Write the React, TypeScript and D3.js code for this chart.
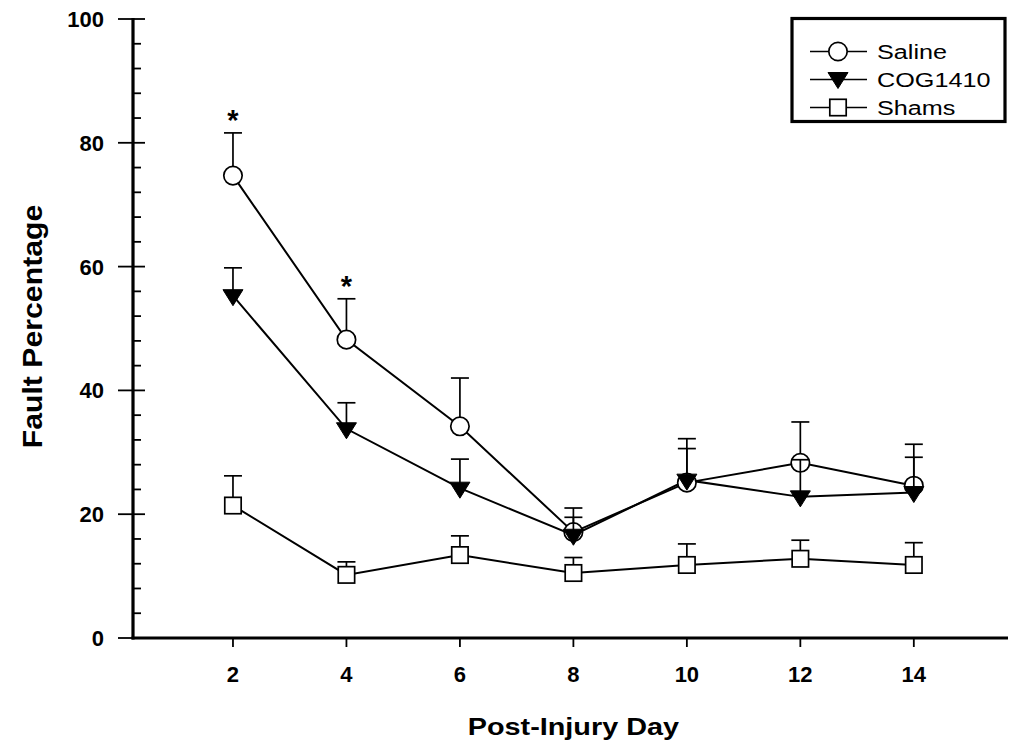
import React from 'react';
import * as d3 from 'd3';

// data (upper SEM bars only)
const days = [2, 4, 6, 8, 10, 12, 14];
const salineMean = [74.7, 48.2, 34.2, 17.1, 25.1, 28.3, 24.6];
const salineUpper = [81.6, 54.8, 42.0, 21.0, 32.2, 34.9, 31.3];
const cogMean = [55.3, 33.8, 24.2, 16.6, 25.5, 22.8, 23.5];
const cogUpper = [59.8, 38.0, 28.9, 19.5, 30.6, 28.8, 29.2];
const shamMean = [21.4, 10.2, 13.4, 10.5, 11.8, 12.8, 11.8];
const shamUpper = [26.2, 12.3, 16.5, 13.0, 15.2, 15.8, 15.4];
const starDays = [2, 4];
const starValues = [81.6, 54.8];
const yTicks = [0, 20, 40, 60, 80, 100];
const seriesNames = ['Saline', 'COG1410', 'Shams'];

const W = 1011;
const H = 746;
const font = 'Arial, "Liberation Sans", Helvetica, sans-serif';

type Kind = 'circle' | 'tri' | 'square';

function Marker({ kind, x, y }: { kind: Kind; x: number; y: number }) {
  if (kind === 'circle') {
    return <circle cx={x} cy={y} r={9.2} fill="white" stroke="black" strokeWidth={1.7} />;
  }
  if (kind === 'tri') {
    const s = 10;
    return (
      <path
        d={`M${x - s},${y - 6} L${x + s},${y - 6} L${x},${y + 10} Z`}
        fill="black"
        stroke="black"
        strokeWidth={1}
      />
    );
  }
  return <rect x={x - 8.2} y={y - 8.2} width={16.4} height={16.4} fill="white" stroke="black" strokeWidth={1.7} />;
}

export default function App() {
  const x = d3.scaleLinear().domain([0.238, 15.66]).range([133, 1008]);
  const y = d3.scaleLinear().domain([0, 100]).range([638, 19]);
  const line = d3.line<[number, number]>().x(d => x(d[0])).y(d => y(d[1]));

  const series: { kind: Kind; mean: number[]; upper: number[] }[] = [
    { kind: 'circle', mean: salineMean, upper: salineUpper },
    { kind: 'tri', mean: cogMean, upper: cogUpper },
    { kind: 'square', mean: shamMean, upper: shamUpper },
  ];
  const minorTicks = d3.range(0, 101, 4).filter(v => v % 20 !== 0);

  return (
    <svg width={W} height={H} style={{ position: 'absolute', left: 0, top: 0, background: 'white' }}>
      {/* lines first */}
      {series.map((s, i) => (
        <path
          key={'l' + i}
          d={line(days.map((d, j) => [d, s.mean[j]] as [number, number])) || ''}
          fill="none"
          stroke="black"
          strokeWidth={2}
        />
      ))}
      {series.map((s, i) => (
        <g key={'s' + i}>
          {days.map((d, j) => (
            <g key={j}>
              <line x1={x(d)} x2={x(d)} y1={y(s.mean[j])} y2={y(s.upper[j])} stroke="black" strokeWidth={1.7} />
              <line x1={x(d) - 9} x2={x(d) + 9} y1={y(s.upper[j])} y2={y(s.upper[j])} stroke="black" strokeWidth={1.7} />
            </g>
          ))}
          {days.map((d, j) => (
            <Marker key={'m' + j} kind={s.kind} x={x(d)} y={y(s.mean[j])} />
          ))}
        </g>
      ))}

      {starDays.map((d, i) => (
        <text
          key={'st' + i}
          x={x(d)}
          y={y(starValues[i]) - 3}
          textAnchor="middle"
          fontFamily={font}
          fontWeight="bold"
          fontSize={29}
        >
          *
        </text>
      ))}

      {/* y axis */}
      <line x1={133} x2={133} y1={y(100) - 1} y2={y(0) + 1.5} stroke="black" strokeWidth={3.2} />
      {yTicks.map(t => (
        <g key={'yt' + t}>
          <line x1={118} x2={145} y1={y(t)} y2={y(t)} stroke="black" strokeWidth={1.8} />
          <text x={104} y={y(t)} dy="0.36em" textAnchor="end" fontFamily={font} fontWeight="bold" fontSize={22}>
            {t}
          </text>
        </g>
      ))}
      {minorTicks.map(t => (
        <line key={'mt' + t} x1={133} x2={141} y1={y(t)} y2={y(t)} stroke="black" strokeWidth={1.8} />
      ))}
      <text
        transform={`translate(42,${y(50) - 2}) rotate(-90) scale(1.12,1)`}
        textAnchor="middle"
        fontFamily={font}
        fontWeight="bold"
        fontSize={27}
      >
        Fault Percentage
      </text>

      {/* x axis */}
      <line x1={131.5} x2={1008} y1={638} y2={638} stroke="black" strokeWidth={3.2} />
      {days.map(d => (
        <g key={'xt' + d}>
          <line x1={x(d)} x2={x(d)} y1={638} y2={647} stroke="black" strokeWidth={1.8} />
          <text x={x(d)} y={682} textAnchor="middle" fontFamily={font} fontWeight="bold" fontSize={22}>
            {d}
          </text>
        </g>
      ))}
      <text
        transform={`translate(${x(8)},735) scale(1.2,1)`}
        textAnchor="middle"
        fontFamily={font}
        fontWeight="bold"
        fontSize={24}
      >
        Post-Injury Day
      </text>

      {/* legend */}
      <rect x={792} y={18.5} width={213} height={103} fill="white" stroke="black" strokeWidth={3.2} />
      {seriesNames.map((n, i) => {
        const ly = 51.5 + i * 28;
        const kind = series[i].kind;
        return (
          <g key={'lg' + i}>
            <line x1={810} x2={867} y1={ly} y2={ly} stroke="black" strokeWidth={1.7} />
            <Marker kind={kind} x={838} y={kind === 'tri' ? ly - 1 : ly} />
            <text
              transform={`translate(877,${ly}) scale(1.2,1)`}
              dy="0.36em"
              fontFamily={font}
              fontSize={21}
            >
              {n}
            </text>
          </g>
        );
      })}
    </svg>
  );
}
